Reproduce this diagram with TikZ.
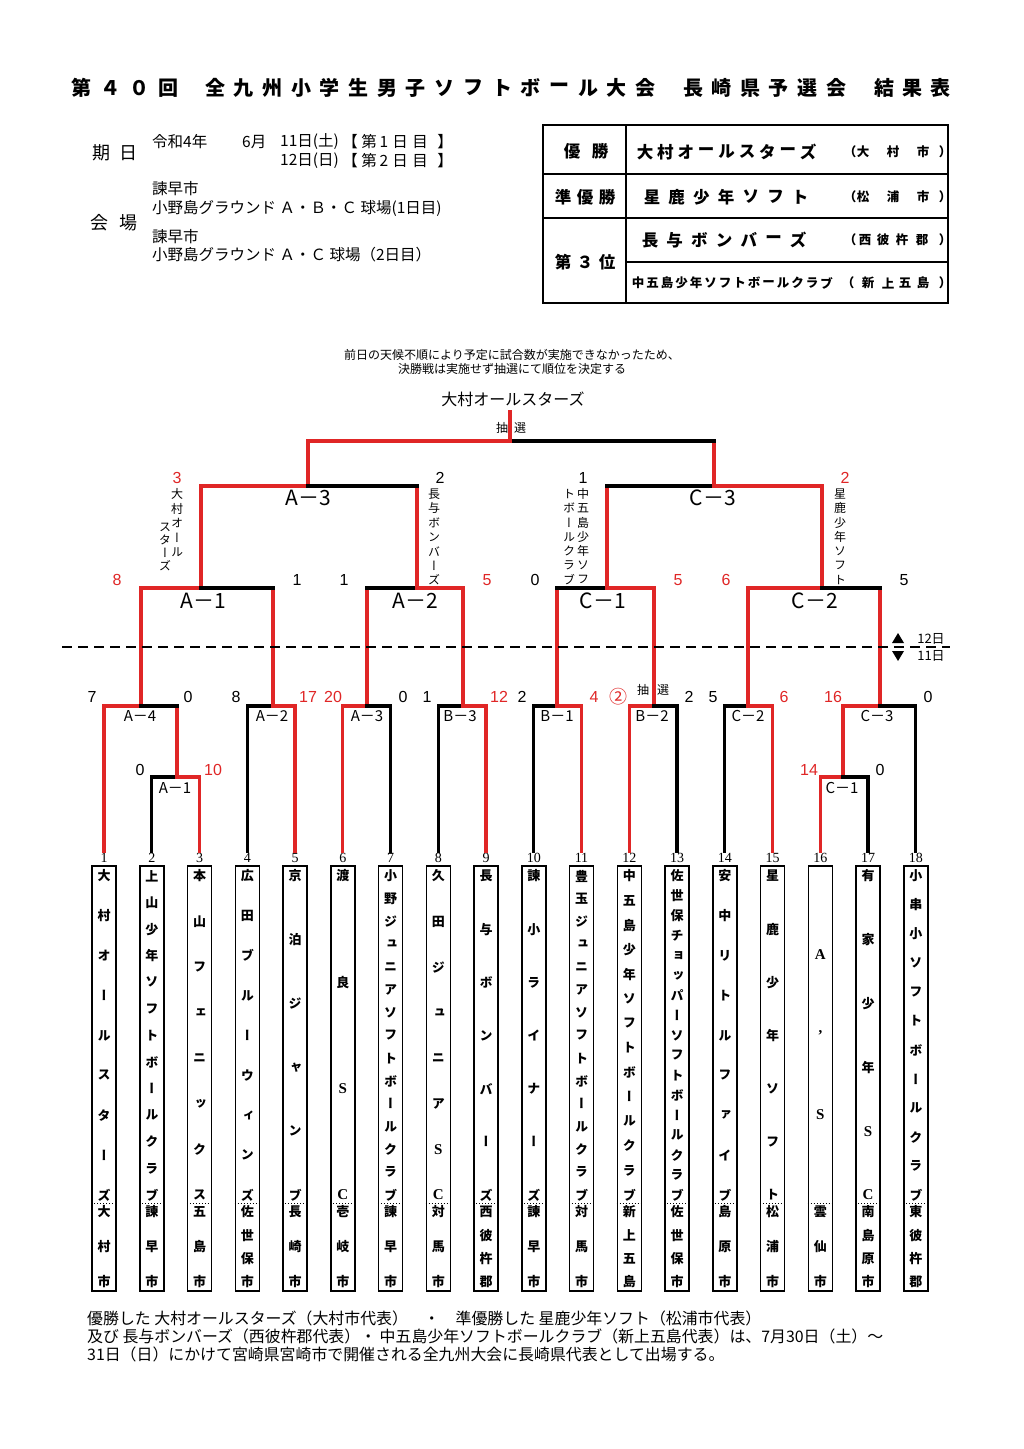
\documentclass[tikz,border=0pt]{standalone}
\usepackage{fontspec}
\setmainfont{Noto Sans CJK JP}
\newfontfamily\vfont{Noto Sans CJK JP}[RawFeature=+vert]
\newfontfamily\lsans{Liberation Sans}
\newfontfamily\lserif{Liberation Serif}
\newcommand\setfs[1]{\fontsize{#1}{#1}\selectfont}
\newcommand\LL[1]{{\lserif\bfseries\setfs{15}#1}}
\usetikzlibrary{calc}
\definecolor{bred}{RGB}{224,38,38}
\tikzset{
  lnk/.style={line width=3.2pt, line cap=rect},
  ttl/.style={font=\setfs{20}\bfseries, inner sep=0},
  hdr/.style={font=\setfs{15.5}, inner sep=0, anchor=west},
  hdc/.style={font=\setfs{15.5}, inner sep=0},
  hlab/.style={font=\setfs{18}, inner sep=0},
  tbl/.style={font=\setfs{16.5}\bfseries, inner sep=0},
  tbls/.style={font=\setfs{12.5}\bfseries, inner sep=0},
  note/.style={font=\setfs{12}, inner sep=0},
  sc/.style={font=\lsans\setfs{16}, inner sep=0},
  scr/.style={sc, text=bred},
  mbig/.style={font=\setfs{21}, inner sep=0},
  msm/.style={font=\setfs{15}, inner sep=0},
  vlab/.style={font=\vfont\setfs{12}, inner sep=0},
  tnum/.style={font=\lserif\setfs{14}, inner sep=0},
  tbox/.style={draw, line width=1.5pt, minimum width=24pt, minimum height=425pt, inner sep=0},
  vname/.style={font=\vfont\bfseries\setfs{13}, inner sep=0},
  foot/.style={font=\setfs{15.9}, inner sep=0, anchor=west},
}
\newcommand\tname[3]{\foreach \c [count=\k from 0] in {#3} {\node[vname] (nm#1-\k) at ({104+47.75*(#1-1)},{876+\k*319/(#2-1)}) {\c};}}
\newcommand\tcity[3]{\foreach \c [count=\k from 0] in {#3} {\node[vname] (ct#1-\k) at ({104+47.75*(#1-1)},{1212+\k*70/(#2-1)}) {\c};}}
\begin{document}
\begin{tikzpicture}[x=1pt,y=-1pt]
\useasboundingbox (0,0) rectangle (1024,1449);
\fill[white] (0,0) rectangle (1024,1449);

% ---------- title
\foreach \c [count=\i from 0] in {第,４,０,回} \node[ttl] (tiA\i) at ({81+29*\i},88) {\c};
\foreach \c [count=\i from 0] in {全,九,州,小,学,生,男,子,ソ,フ,ト,ボ,ー,ル,大,会} \node[ttl] (tiB\i) at ({215+28.7*\i},88) {\c};
\foreach \c [count=\i from 0] in {長,崎,県,予,選,会} \node[ttl] (tiC\i) at ({693+28.6*\i},88) {\c};
\foreach \c [count=\i from 0] in {結,果,表} \node[ttl] (tiD\i) at ({884+28*\i},88) {\c};

% ---------- header left
\node[hlab] (k1) at (101,153) {期};
\node[hlab] (k2) at (128,153) {日};
\node[hdr] (d1) at (152,142) {令和4年};
\node[hdr] (d2) at (242,142) {6月};
\node[hdr] (d3) at (280,142) {11日(土)};
\foreach \c/\x [count=\i] in {【/350,第/369,1/384,日/400,目/420,】/445} \node[hdc] (d4\i) at (\x,142) {\c};
\node[hdr] (d5) at (280,161) {12日(日)};
\foreach \c/\x [count=\i] in {【/350,第/369,2/384,日/400,目/420,】/445} \node[hdc] (d6\i) at (\x,161) {\c};
\node[hlab] (v1) at (99,223) {会};
\node[hlab] (v2) at (128,223) {場};
\node[hdr] (p1) at (152,189) {諫早市};
\node[hdr] (p2) at (152,208) {小野島グラウンド Ａ・Ｂ・Ｃ 球場(1日目)};
\node[hdr] (p3) at (152,237) {諫早市};
\node[hdr] (p4) at (152,255) {小野島グラウンド Ａ・Ｃ 球場（2日目）};

% ---------- result table
\draw[line width=2.6pt] (543,125) rectangle (948,303);
\draw[line width=1.8pt] (626,125) -- (626,303);
\draw[line width=1.8pt] (543,174) -- (948,174);
\draw[line width=1.8pt] (543,218) -- (948,218);
\draw[line width=1.4pt] (626,262) -- (948,262);
\node[tbl] (r1a) at (572,151) {優};
\node[tbl] (r1b) at (600,151) {勝};
\foreach \c [count=\i from 0] in {準,優,勝} \node[tbl] (r2l\i) at ({563+22*\i},197) {\c};
\foreach \c [count=\i from 0] in {第,３,位} \node[tbl] (r3l\i) at ({563+22*\i},262) {\c};
\foreach \c [count=\i from 0] in {大,村,オ,ー,ル,ス,タ,ー,ズ} \node[tbl] (r1t\i) at ({645+20.4*\i},152) {\c};
\foreach \c [count=\i from 0] in {星,鹿,少,年,ソ,フ,ト} \node[tbl] (r2t\i) at ({652+24.7*\i},197) {\c};
\foreach \c [count=\i from 0] in {長,与,ボ,ン,バ,ー,ズ} \node[tbl] (r3t\i) at ({650+24.7*\i},240) {\c};
\foreach \c [count=\i from 0] in {中,五,島,少,年,ソ,フ,ト,ボ,ー,ル,ク,ラ,ブ} \node[tbls] (r4t\i) at ({638+14.5*\i},283) {\c};
\foreach \c/\x in {（/850,大/863,村/893,市/923,）/945} \node[tbls] (r1p\x) at (\x,152) {\c};
\foreach \c/\x in {（/850,松/863,浦/893,市/923,）/945} \node[tbls] (r2p\x) at (\x,197) {\c};
\foreach \c/\x in {（/850,西/865,彼/883,杵/902,郡/922,）/945} \node[tbls] (r3p\x) at (\x,240) {\c};
\foreach \c/\x in {（/848,新/868,上/888,五/905,島/923,）/945} \node[tbls] (r4p\x) at (\x,283) {\c};

% ---------- notes and winner
\node[note] (n1) at (512,355) {前日の天候不順により予定に試合数が実施できなかったため、};
\node[note] (n2) at (512,369) {決勝戦は実施せず抽選にて順位を決定する};
\node[font=\setfs{16}, inner sep=0] (win) at (513,399) {大村オールスターズ};
\node[note] (ch1) at (502,428) {抽};
\node[note] (ch2) at (520,428) {選};

% ---------- bracket coordinates
\foreach \i in {1,...,18} {
  \pgfmathsetmacro\xx{104+47.75*(\i-1)}
  \node[tbox] (b\i) at (\xx,1078.5) {};
  \node[tnum] (n\i) at (\xx,858) {\i};
  \coordinate (t\i) at (\xx,851);
  \draw[dotted, line width=1pt] (b\i.west |- 0,1203) -- (b\i.east |- 0,1203);
}
\coordinate (mA1l) at (177,777);
\coordinate (mC1l) at (843,777);
\coordinate (mA4) at (141,706);
\coordinate (mA2l) at (273,706);
\coordinate (mA3l) at (367,706);
\coordinate (mB3) at (463,706);
\coordinate (mB1) at (557,706);
\coordinate (mB2) at (654,706);
\coordinate (mC2l) at (748,706);
\coordinate (mC3l) at (880,706);
\coordinate (mA1u) at (201,588);
\coordinate (mA2u) at (417,588);
\coordinate (mC1u) at (607,588);
\coordinate (mC2u) at (822,588);
\coordinate (mA3u) at (308,486);
\coordinate (mC3u) at (714,486);
\coordinate (fin) at (510,441);
\coordinate (top) at (510,412);

\def\edges{t1/mA4/bred/bred, t2/mA1l/black/black, t3/mA1l/bred/bred, mA1l/mA4/bred/black,
 t4/mA2l/black/black, t5/mA2l/bred/bred, t6/mA3l/bred/bred, t7/mA3l/black/black,
 t8/mB3/black/black, t9/mB3/bred/bred, t10/mB1/black/black, t11/mB1/bred/bred,
 t12/mB2/bred/bred, t13/mB2/black/black, t14/mC2l/black/black, t15/mC2l/bred/bred,
 t16/mC1l/bred/bred, t17/mC1l/black/black, mC1l/mC3l/bred/bred, t18/mC3l/black/black,
 mA4/mA1u/bred/bred, mA2l/mA1u/bred/black, mA3l/mA2u/bred/black, mB3/mA2u/bred/bred,
 mB1/mC1u/bred/black, mB2/mC1u/bred/bred, mC2l/mC2u/bred/bred, mC3l/mC2u/bred/black,
 mA1u/mA3u/bred/bred, mA2u/mA3u/bred/black, mC1u/mC3u/bred/black, mC2u/mC3u/bred/bred,
 mA3u/fin/bred/bred, mC3u/fin/bred/black}
\foreach \c/\p/\v/\h in \edges { \draw[lnk, color=\v] (\c) -- (\c |- \p); }
\foreach \c/\p/\v/\h in \edges { \draw[lnk, color=\h] (\c |- \p) -- (\p); }
\draw[lnk, color=bred] (fin) -- (top);

% ---------- day separator
\draw[line width=2pt, dash pattern=on 10pt off 6pt] (62,647) -- (950,647);
\fill (892,643) -- (904,643) -- (898,633) -- cycle;
\fill (892,651) -- (904,651) -- (898,661) -- cycle;
\node[font=\setfs{13}, inner sep=0] (d12) at (931,639) {12日};
\node[font=\setfs{13}, inner sep=0] (d11) at (931,656) {11日};

% ---------- match labels
\node[mbig] (LA3) at (308,498) {A－3};
\node[mbig] (LC3) at (713,498) {C－3};
\node[mbig] (LA1) at (203,601) {A－1};
\node[mbig] (LA2) at (415,601) {A－2};
\node[mbig] (LC1) at (603,601) {C－1};
\node[mbig] (LC2) at (815,601) {C－2};
\node[msm] (la4) at (140,716) {A－4};
\node[msm] (la2) at (272,716) {A－2};
\node[msm] (la3) at (367,716) {A－3};
\node[msm] (lb3) at (460,716) {B－3};
\node[msm] (lb1) at (557,716) {B－1};
\node[msm] (lb2) at (652,716) {B－2};
\node[msm] (lc2) at (748,716) {C－2};
\node[msm] (lc3) at (877,716) {C－3};
\node[msm] (la1) at (175,788) {A－1};
\node[msm] (lc1) at (842,788) {C－1};

% ---------- scores
\node[scr] (s1) at (177,478) {3};
\node[sc] (s2) at (440,478) {2};
\node[sc] (s3) at (583,478) {1};
\node[scr] (s4) at (845,478) {2};
\foreach \v/\x/\cl [count=\i] in {8/117/bred,1/297/black,1/344/black,5/487/bred,0/535/black,5/678/bred,6/726/bred,5/904/black}
  \node[sc, text=\cl] (sm\i) at (\x,580) {\v};
\foreach \v/\x/\cl [count=\i] in {7/92/black,0/188/black,8/236/black,17/308/bred,20/333/bred,0/403/black,1/427/black,12/499/bred,2/522/black,4/594/bred,2/689/black,5/713/black,6/784/bred,16/833/bred,0/928/black}
  \node[sc, text=\cl] (sl\i) at (\x,697) {\v};
\node[font=\setfs{18}, text=bred, inner sep=0] (s22) at (618,697) {②};
\node[note] (cb1) at (643,690) {抽};
\node[note] (cb2) at (663,690) {選};
\foreach \v/\x/\cl [count=\i] in {0/140/black,10/213/bred,14/809/bred,0/880/black}
  \node[sc, text=\cl] (sb\i) at (\x,770) {\v};

% ---------- vertical labels on bracket
\foreach \c [count=\i from 0] in {大,村,オ,ー,ル} \node[vlab] (va\i) at (177,{494+14.5*\i}) {\c};
\foreach \c [count=\i from 0] in {ス,タ,ー,ズ} \node[vlab] (vb\i) at (165,{527+13*\i}) {\c};
\foreach \c [count=\i from 0] in {長,与,ボ,ン,バ,ー,ズ} \node[vlab] (vc\i) at (434,{494+14.3*\i}) {\c};
\foreach \c [count=\i from 0] in {中,五,島,少,年,ソ,フ} \node[vlab] (vd\i) at (583,{494+14.3*\i}) {\c};
\foreach \c [count=\i from 0] in {ト,ボ,ー,ル,ク,ラ,ブ} \node[vlab] (ve\i) at (569,{494+14.3*\i}) {\c};
\foreach \c [count=\i from 0] in {星,鹿,少,年,ソ,フ,ト} \node[vlab] (vf\i) at (840,{494+14.3*\i}) {\c};

% ---------- team names
\tname{1}{9}{大,村,オ,ー,ル,ス,タ,ー,ズ}
\tname{2}{13}{上,山,少,年,ソ,フ,ト,ボ,ー,ル,ク,ラ,ブ}
\tname{3}{8}{本,山,フ,ェ,ニ,ッ,ク,ス}
\tname{4}{9}{広,田,ブ,ル,ー,ウ,ィ,ン,ズ}
\tname{5}{6}{京,泊,ジ,ャ,ン,ブ}
\tname{6}{4}{渡,良,\LL{S},\LL{C}}
\tname{7}{15}{小,野,ジ,ュ,ニ,ア,ソ,フ,ト,ボ,ー,ル,ク,ラ,ブ}
\tname{8}{8}{久,田,ジ,ュ,ニ,ア,\LL{S},\LL{C}}
\tname{9}{7}{長,与,ボ,ン,バ,ー,ズ}
\tname{10}{7}{諫,小,ラ,イ,ナ,ー,ズ}
\tname{11}{15}{豊,玉,ジ,ュ,ニ,ア,ソ,フ,ト,ボ,ー,ル,ク,ラ,ブ}
\tname{12}{14}{中,五,島,少,年,ソ,フ,ト,ボ,ー,ル,ク,ラ,ブ}
\tname{13}{17}{佐,世,保,チ,ョ,ッ,パ,ー,ソ,フ,ト,ボ,ー,ル,ク,ラ,ブ}
\tname{14}{9}{安,中,リ,ト,ル,フ,ァ,イ,ブ}
\tname{15}{7}{星,鹿,少,年,ソ,フ,ト}
\node[vname] (nm16-0) at (b16 |- 0,955) {\LL{A}};
\node[vname] (nm16-1) at (b16 |- 0,1035) {\LL{’}};
\node[vname] (nm16-2) at (b16 |- 0,1115) {\LL{S}};
\tname{17}{6}{有,家,少,年,\LL{S},\LL{C}}
\tname{18}{12}{小,串,小,ソ,フ,ト,ボ,ー,ル,ク,ラ,ブ}

\tcity{1}{3}{大,村,市}
\tcity{2}{3}{諫,早,市}
\tcity{3}{3}{五,島,市}
\tcity{4}{4}{佐,世,保,市}
\tcity{5}{3}{長,崎,市}
\tcity{6}{3}{壱,岐,市}
\tcity{7}{3}{諫,早,市}
\tcity{8}{3}{対,馬,市}
\tcity{9}{4}{西,彼,杵,郡}
\tcity{10}{3}{諫,早,市}
\tcity{11}{3}{対,馬,市}
\tcity{12}{4}{新,上,五,島}
\tcity{13}{4}{佐,世,保,市}
\tcity{14}{3}{島,原,市}
\tcity{15}{3}{松,浦,市}
\tcity{16}{3}{雲,仙,市}
\tcity{17}{4}{南,島,原,市}
\tcity{18}{4}{東,彼,杵,郡}

% ---------- footer
\node[foot] (f1) at (87,1318) {優勝した 大村オールスターズ（大村市代表）　・　準優勝した 星鹿少年ソフト（松浦市代表）};
\node[foot] (f2) at (87,1336) {及び 長与ボンバーズ（西彼杵郡代表）・ 中五島少年ソフトボールクラブ（新上五島代表）は、7月30日（土）～};
\node[foot] (f3) at (87,1354) {31日（日）にかけて宮崎県宮崎市で開催される全九州大会に長崎県代表として出場する。};
\end{tikzpicture}
\end{document}
